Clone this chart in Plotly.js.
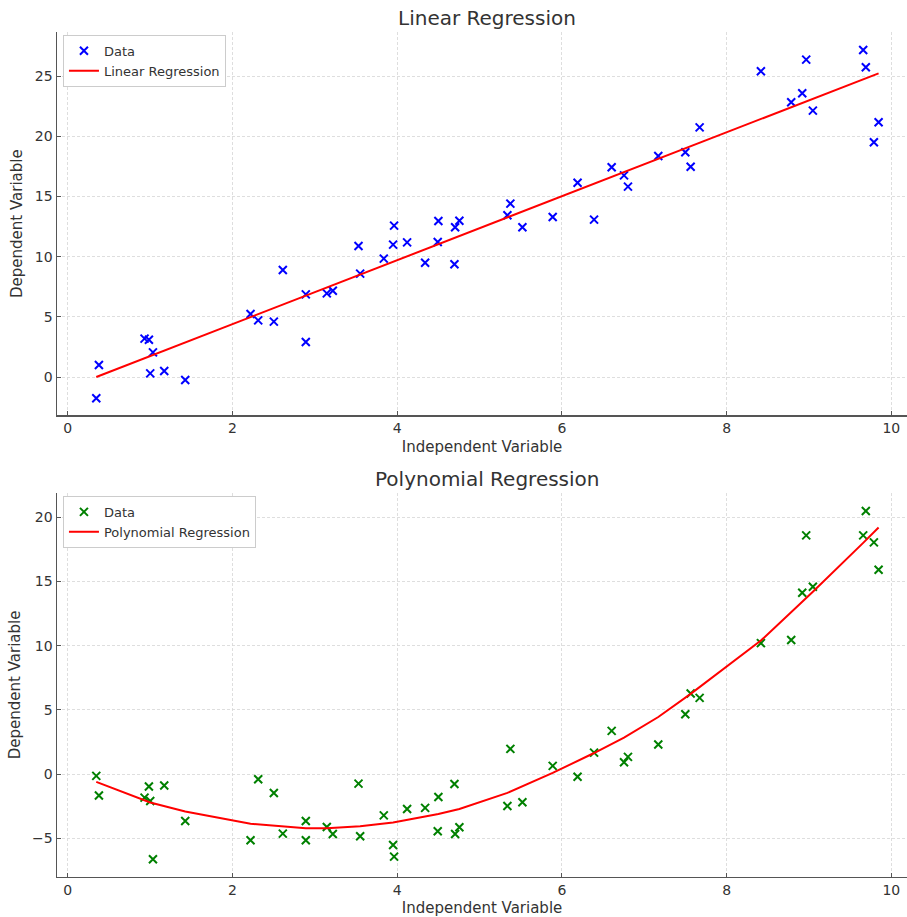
<!DOCTYPE html>
<html>
<head>
<meta charset="utf-8">
<script src="https://cdn.plot.ly/plotly-3.0.1.min.js"></script>
<style>html,body{margin:0;padding:0;background:#fff;}#chart{width:907px;height:917px;}</style>
</head>
<body>
<div id="chart"></div>
<script>
// Shared independent variable values
const xData = [0.346,0.378,0.932,0.985,1.001,1.034,1.171,1.426,2.219,2.312,2.502,2.611,2.890,2.890,3.145,3.218,3.530,3.550,3.837,3.950,3.962,4.120,4.339,4.500,4.492,4.703,4.755,4.695,5.338,5.374,5.520,5.888,6.190,6.390,6.604,6.754,6.802,7.170,7.498,7.563,7.672,8.416,8.784,8.918,8.966,9.047,9.658,9.690,9.788,9.845];
// Linear data (top panel)
const yLinear = [-1.77,1.0,3.19,3.1,0.3,2.05,0.5,-0.25,5.24,4.71,4.6,8.9,6.87,2.91,6.95,7.17,10.89,8.59,9.84,11.0,12.58,11.19,9.5,12.97,11.22,12.44,12.99,9.37,13.44,14.41,12.44,13.3,16.15,13.08,17.43,16.76,15.82,18.37,18.68,17.48,20.75,25.41,22.83,23.58,26.38,22.14,27.18,25.74,19.51,21.17];
// Polynomial data (bottom panel)
const yPoly = [-0.13,-1.66,-1.82,-0.96,-2.08,-6.62,-0.88,-3.64,-5.14,-0.39,-1.46,-4.62,-3.64,-5.14,-4.1,-4.65,-0.73,-4.83,-3.2,-5.5,-6.41,-2.7,-2.62,-1.77,-4.44,-4.65,-4.13,-0.76,-2.47,1.97,-2.18,0.65,-0.19,1.68,3.37,0.93,1.35,2.31,4.67,6.28,5.94,10.2,10.44,14.12,18.58,14.59,18.58,20.48,18.04,15.91];
// Fitted lines
const linFitX = [0.346, 9.845];
const linFitY = [0.0, 25.24];
const polyFitX = [0.346,1.001,1.426,2.219,2.890,3.145,3.550,3.950,4.500,4.755,5.338,5.888,6.390,6.754,7.170,7.563,8.416,8.918,9.047,9.658,9.845];
const polyFitY = [-0.60,-2.20,-2.90,-3.85,-4.20,-4.20,-4.05,-3.75,-3.10,-2.70,-1.45,0.10,1.65,2.85,4.45,6.25,10.40,13.45,14.20,18.00,19.20];

const FONT = 'DejaVu Sans, sans-serif';
const txt = '#333333';
const spine = '#555555';

const markerBlue = {symbol:'x-thin', size:8, color:'#0000ff', line:{color:'#0000ff', width:2}};
const markerGreen = {symbol:'x-thin', size:8, color:'#008000', line:{color:'#008000', width:2}};

const traces = [
  {x:xData, y:yLinear, type:'scatter', mode:'markers', name:'Data', marker:markerBlue, xaxis:'x', yaxis:'y', legend:'legend'},
  {x:linFitX, y:linFitY, type:'scatter', mode:'lines', name:'Linear Regression', line:{color:'#ff0000', width:2}, xaxis:'x', yaxis:'y', legend:'legend'},
  {x:xData, y:yPoly, type:'scatter', mode:'markers', name:'Data', marker:markerGreen, xaxis:'x2', yaxis:'y2', legend:'legend2'},
  {x:polyFitX, y:polyFitY, type:'scatter', mode:'lines', name:'Polynomial Regression', line:{color:'#ff0000', width:2}, xaxis:'x2', yaxis:'y2', legend:'legend2'}
];

function xax(anchor){
  return {anchor:anchor, range:[-0.131,10.19], tickvals:[0,2,4,6,8,10], ticks:'inside', ticklen:4, tickcolor:spine,
    showline:true, linecolor:spine, linewidth:1.5, mirror:false, zeroline:false,
    showgrid:true, gridcolor:'#d6d6d6', gridwidth:0.8, griddash:'3px,2px',
    tickfont:{family:FONT, size:14, color:txt},
    title:{text:'Independent Variable', font:{family:FONT, size:15, color:txt}, standoff:6}};
}
function yax(anchor, range, domain, tv){
  return {anchor:anchor, range:range, domain:domain, tickvals:tv, ticks:'inside', ticklen:4, tickcolor:spine,
    showline:true, linecolor:spine, linewidth:1.5, mirror:false, zeroline:false,
    showgrid:true, gridcolor:'#d6d6d6', gridwidth:0.8, griddash:'3px,2px',
    tickfont:{family:FONT, size:14, color:txt},
    title:{text:'Dependent Variable', font:{family:FONT, size:15, color:txt}, standoff:8}};
}

const layout = {
  width:907, height:917,
  margin:{l:57, r:0, t:0, b:0},
  paper_bgcolor:'#ffffff', plot_bgcolor:'#ffffff',
  showlegend:true,
  xaxis: xax('y'),
  yaxis: yax('x', [-3.16, 28.65], [0.5474, 0.9648], [0,5,10,15,20,25]),
  xaxis2: xax('y2'),
  yaxis2: yax('x2', [-7.975, 21.88], [0.0439, 0.4624], [-5,0,5,10,15,20]),
  legend: {x:0.007, y:0.962, xanchor:'left', yanchor:'top', bgcolor:'#ffffff', bordercolor:'#cccccc', borderwidth:1,
    font:{family:FONT, size:13, color:txt}},
  legend2: {x:0.007, y:0.4592, xanchor:'left', yanchor:'top', bgcolor:'#ffffff', bordercolor:'#cccccc', borderwidth:1,
    font:{family:FONT, size:13, color:txt}},
  annotations:[
    {text:'Linear Regression', xref:'paper', yref:'paper', x:0.506, y:1-18/917, xanchor:'center', yanchor:'middle', showarrow:false,
      font:{family:FONT, size:20, color:txt}},
    {text:'Polynomial Regression', xref:'paper', yref:'paper', x:0.506, y:1-479/917, xanchor:'center', yanchor:'middle', showarrow:false,
      font:{family:FONT, size:20, color:txt}}
  ]
};

Plotly.newPlot('chart', traces, layout, {displayModeBar:false, staticPlot:true});
</script>
</body>
</html>
